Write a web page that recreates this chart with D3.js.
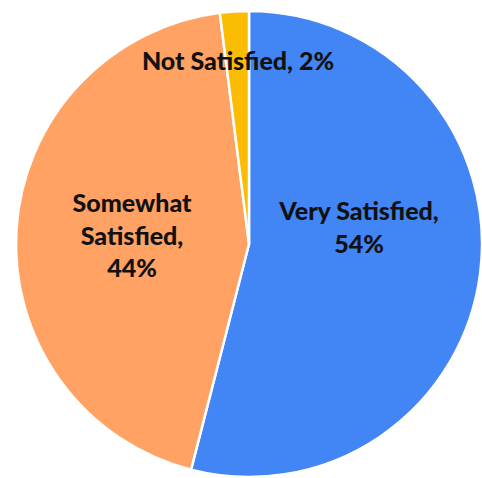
<!DOCTYPE html>
<html>
<head>
<meta charset="utf-8">
<script src="https://cdn.jsdelivr.net/npm/d3@7"></script>
<style>
  body { margin: 0; background: #fff; }
  text { font-family: Lato, "Open Sans", sans-serif; font-weight: 900; }
</style>
</head>
<body>
<div id="pieChart"></div>
<script>
// chart data
var categories = ["Very Satisfied", "Somewhat Satisfied", "Not Satisfied"];
var values = [54, 44, 2];
var colors = ["#4285F4", "#FFA264", "#FBBC04"];
// label lines for each slice
var labelLines = [
  ["Very Satisfied,", "54%"],
  ["Somewhat", "Satisfied,", "44%"],
  ["Not Satisfied, 2%"]
];

var width = 482, height = 478;
var cx = 249, cy = 244, radius = 233;

var svg = d3.select("#pieChart")
  .append("svg")
    .attr("width", width)
    .attr("height", height)
  .append("g")
    .attr("transform", "translate(" + cx + "," + cy + ")");

var pie = d3.pie().sort(null).value(function(d) { return d; });
var arcs = pie(values);

var arc = d3.arc().innerRadius(0).outerRadius(radius);

svg.selectAll("path")
  .data(arcs)
  .enter()
  .append("path")
    .attr("d", arc)
    .attr("fill", function(d, i) { return colors[i]; })
    .attr("stroke", "#fff")
    .attr("stroke-width", 2.5)
    .attr("stroke-linejoin", "round");

// label positions (relative to centre), as placed in the original
var labelOffsets = [[110, -24], [-117, -32], [-11, -174]];
var lineHeight = 32.5;

arcs.forEach(function(d, i) {
  var lines = labelLines[i];
  var t = svg.append("text")
    .attr("text-anchor", "middle")
    .attr("font-size", 25)
    .attr("fill", "#111")
    .attr("transform", "translate(" + labelOffsets[i][0] + "," + labelOffsets[i][1] + ")");
  lines.forEach(function(line, j) {
    t.append("tspan")
      .attr("x", 0)
      .attr("y", j * lineHeight)
      .text(line);
  });
});
</script>
</body>
</html>
